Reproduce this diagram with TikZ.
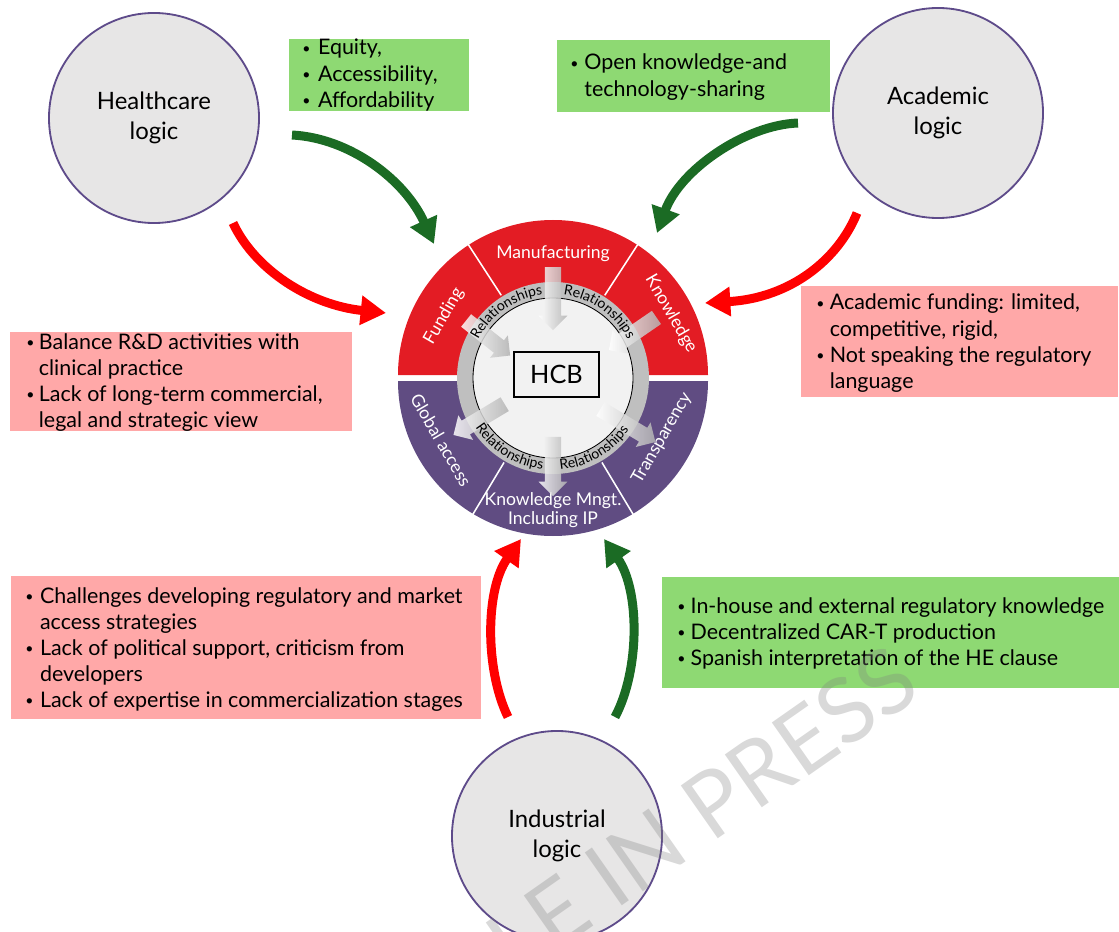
\documentclass[tikz,border=0pt]{standalone}
\usepackage{fontspec}
\setmainfont{Lato}
\usetikzlibrary{arrows.meta,shapes.arrows,decorations.text,shadings}
\definecolor{boxgreen}{HTML}{8ED973}
\definecolor{boxpink}{HTML}{FFA8A8}
\definecolor{wred}{HTML}{E31C24}
\definecolor{wpurple}{HTML}{604C82}
\definecolor{cgray}{HTML}{E7E6E6}
\definecolor{cedge}{HTML}{5E4B8A}
\definecolor{agreen}{HTML}{1B6B24}
\definecolor{ared}{HTML}{FF0000}
\definecolor{ringgray}{HTML}{BFBFBF}
\definecolor{innergray}{HTML}{F2F2F2}
\newcommand{\bul}{\raisebox{0.15ex}{\fontsize{10}{10}\selectfont\textbullet}}
\begin{document}
\begin{tikzpicture}[x=0.025cm,y=-0.025cm,
  logic/.style={circle, fill=cgray, draw=cedge, line width=1.3pt, minimum size=5.25cm, inner sep=0pt, align=center, font=\fontsize{17}{21.3}\selectfont},
  gbox/.style={rectangle, fill=boxgreen, anchor=north west, inner sep=0pt, outer sep=0pt},
  pbox/.style={rectangle, fill=boxpink, anchor=north west, inner sep=0pt, outer sep=0pt},
  btext/.style={anchor=base west, inner sep=0pt, font=\fontsize{15.25}{18.5}\selectfont},
  bigarr/.style={line width=6.4pt, -{Triangle[length=18pt,width=20pt]}},
  garrow/.style={single arrow, draw=none, inner xsep=0pt, inner ysep=5.5pt, single arrow head extend=4.5pt, minimum width=0pt, shading=axis, left color=white, right color=gray!60, fill opacity=0.85},
  seglabel/.style={text=white, inner sep=0pt, font=\fontsize{12.5}{13.5}\selectfont},
  rel/.style={decorate, decoration={text along path, text={Relationships}, text align=center, text effects/.cd, characters={font=\fontsize{5.8}{7}\selectfont}}}
]
\useasboundingbox (0,0) rectangle (1119,932);
\clip (0,0) rectangle (1119,932);

% logic circles
\node[logic] (health) at (154,118) {Healthcare\\logic};
\node[logic] (academic) at (938,113) {Academic\\logic};
\node[logic] (industrial) at (557,836) {Industrial\\logic};

% boxes
\node[gbox, minimum width=4.5cm, minimum height=1.8cm] (g1) at (289,39) {};
\node[gbox, minimum width=6.825cm, minimum height=1.8cm] (g2) at (557,40) {};
\node[pbox, minimum width=8.55cm, minimum height=2.475cm] (p1) at (10,332) {};
\node[pbox, minimum width=7.925cm, minimum height=2.775cm] (p2) at (801,286) {};
\node[pbox, minimum width=11.75cm, minimum height=3.575cm] (p3) at (11,576) {};
\node[gbox, minimum width=11.425cm, minimum height=2.775cm] (g3) at (662,577) {};

\node[btext] (g1t) at (302,55) {\begin{tabular}[t]{@{}p{11.2pt}@{}l@{}}\bul & Equity,\\ \bul & Accessibility,\\ \bul & Affordability\end{tabular}};
\node[btext] (g2t) at (570,70) {\begin{tabular}[t]{@{}p{10pt}@{}l@{}}\bul & Open knowledge-and\\ & technology-sharing\end{tabular}};
\node[btext] (p1t) at (26,349) {\begin{tabular}[t]{@{}p{9pt}@{}l@{}}\bul & Balance R\&D activities with\\ & clinical practice\\ \bul & Lack of long-term commercial,\\ & legal and strategic view\end{tabular}};
\node[btext] (p2t) at (816,310) {\begin{tabular}[t]{@{}p{9.6pt}@{}l@{}}\bul & Academic funding: limited,\\ & competitive, rigid,\\ \bul & Not speaking the regulatory\\ & language\end{tabular}};
\node[btext] (p3t) at (25,603) {\begin{tabular}[t]{@{}p{10.5pt}@{}l@{}}\bul & Challenges developing regulatory and market\\ & access strategies\\ \bul & Lack of political support, criticism from\\ & developers\\ \bul & Lack of expertise in commercialization stages\end{tabular}};
\node[btext] (g3t) at (677,613) {\begin{tabular}[t]{@{}p{9.5pt}@{}l@{}}\bul & In-house and external regulatory knowledge\\ \bul & Decentralized CAR-T production\\ \bul & Spanish interpretation of the HE clause\end{tabular}};

% wheel
\begin{scope}[shift={(553,378)}, y=0.025cm]
  \fill[wred] (-155,3) arc[start angle=180, end angle=0, radius=155] -- cycle;
  \fill[wpurple] (-155,-3) arc[start angle=180, end angle=360, radius=155] -- cycle;
  \draw[white, line width=1.1pt, shift={(0,3)}] (57:95) -- (57:156);
  \draw[white, line width=1.1pt, shift={(0,3)}] (123:95) -- (123:156);
  \draw[white, line width=1.1pt, shift={(0,-3)}] (-59:95) -- (-59:156);
  \draw[white, line width=1.1pt, shift={(0,-3)}] (-121:95) -- (-121:156);
  \fill[ringgray, even odd rule] (0,0) circle[radius=96] (0,0) circle[radius=80];
  \filldraw[fill=innergray, draw=black, line width=0.6pt] (0,0) circle[radius=80];

  \node[seglabel] (manu) at (0,124) {Manufacturing};
  \node[seglabel, rotate=60] (fund) at (-109,62) {Funding};
  \node[seglabel, rotate=-60] (know) at (118,64) {Knowledge};
  \node[seglabel, rotate=-60] (glob) at (-112,-62) {Global access};
  \node[seglabel, rotate=60] (transp) at (109,-60) {Transparency};
  \node[seglabel, align=center] (kmip) at (0,-132) {Knowledge Mngt.\\Including IP};

  \node[garrow, rotate=-90, minimum height=44.8pt] (a1) at (0,83.5) {};
  \node[garrow, rotate=-38.5, minimum height=40pt] (a2) at (-68,42.5) {};
  \node[garrow, rotate=214.5, minimum height=41pt] (a3) at (83,46.5) {};
  \node[garrow, rotate=211, minimum height=42.5pt] (a4) at (-70.5,-39.5) {};
  \node[garrow, rotate=-90, minimum height=42pt] (a5) at (0,-84.5) {};
  \node[garrow, rotate=-31, minimum height=45.6pt] (a6) at (71.5,-45.5) {};

  \path[rel] (155:84) arc[start angle=155, end angle=95, radius=84];
  \path[rel] (85:84) arc[start angle=85, end angle=25, radius=84];
  \path[rel] (-152:92) arc[start angle=-152, end angle=-92, radius=92];
  \path[rel] (-90:92) arc[start angle=-90, end angle=-30, radius=92];

  \node[draw=black, line width=1pt, fill=innergray, minimum width=60.5pt, minimum height=32pt, font=\fontsize{18}{20}\selectfont] (hcb) at (3.5,3.5) {HCB};
\end{scope}

% big arrows
\coordinate (s1) at (292,135); \coordinate (t1) at (434,244);
\coordinate (s2) at (233,223); \coordinate (t2) at (386,313);
\coordinate (s3) at (798,123); \coordinate (t3) at (657,233);
\coordinate (s4) at (857,213); \coordinate (t4) at (705,303);
\coordinate (s5) at (508,717); \coordinate (t5) at (521,539);
\coordinate (s6) at (615,717); \coordinate (t6) at (604,539);
\draw[bigarr, agreen] (s1) .. controls (350,138) and (405,180) .. (t1);
\draw[bigarr, ared] (s2) .. controls (255,270) and (310,305) .. (t2);
\draw[bigarr, agreen] (s3) .. controls (745,125) and (680,170) .. (t3);
\draw[bigarr, ared] (s4) .. controls (838,260) and (790,298) .. (t4);
\draw[bigarr, ared] (s5) .. controls (485,670) and (485,590) .. (t5);
\draw[bigarr, agreen] (s6) .. controls (640,670) and (640,590) .. (t6);

% watermark
\node[rotate=35, text=gray, opacity=0.3, font=\fontsize{64}{64}\selectfont] (wm) at (598,884) {ARTICLE IN PRESS};
\end{tikzpicture}
\end{document}
